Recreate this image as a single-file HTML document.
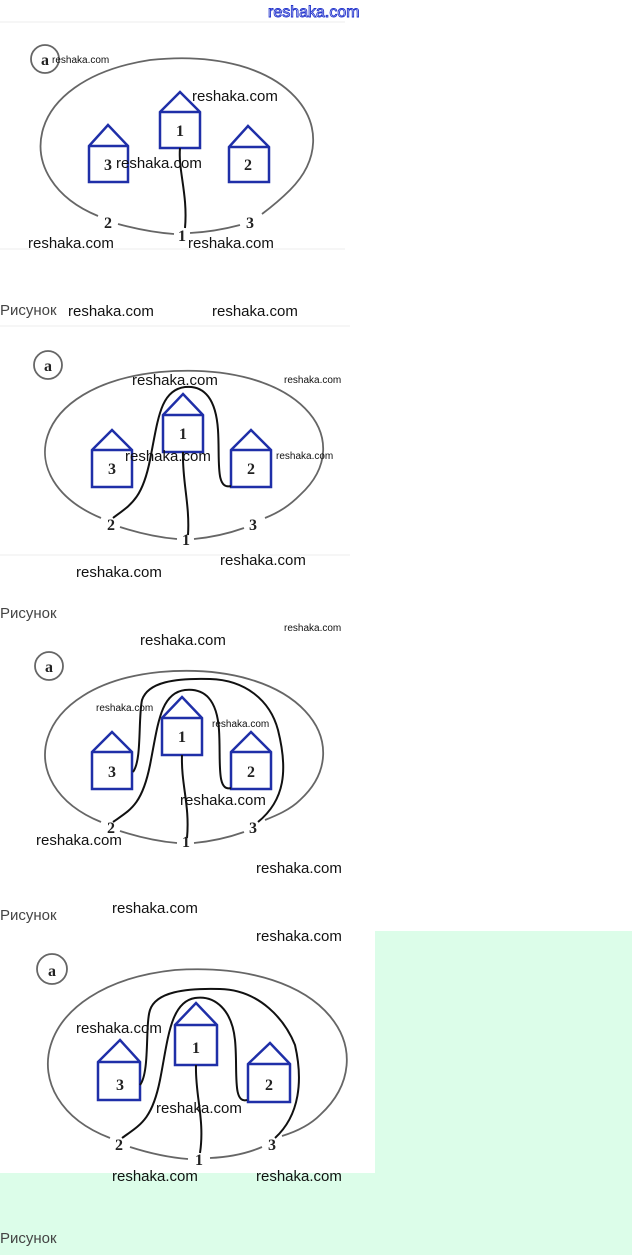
<!DOCTYPE html>
<html><head><meta charset="utf-8"><style>
html,body{margin:0;padding:0;background:#fff;}
svg{display:block;}
.w{font-family:"Liberation Sans",sans-serif;font-size:15px;fill:#111;}
.ws{font-family:"Liberation Sans",sans-serif;font-size:10px;fill:#111;}
.r{font-family:"Liberation Sans",sans-serif;font-size:15px;fill:#444;}
.n{font-family:"Liberation Serif",serif;font-size:16px;font-weight:bold;fill:#222;text-anchor:middle;}
.h{fill:#fff;stroke:#1f2fa8;stroke-width:2.5;}
.e{fill:none;stroke:#666;stroke-width:1.8;}
.c{fill:none;stroke:#111;stroke-width:2;}
</style></head><body>
<svg width="632" height="1255" viewBox="0 0 632 1255" xmlns="http://www.w3.org/2000/svg">
<rect x="0" y="931" width="632" height="324" fill="#dcfde9"/>
<rect x="0" y="931" width="375" height="242" fill="#fff"/>
<text x="268" y="17" font-family="Liberation Sans,sans-serif" font-size="16" fill="#fff" stroke="#2233cc" stroke-width="0.9">reshaka.com</text>
<line x1="0" y1="22" x2="345" y2="22" stroke="#eee"/>
<line x1="0" y1="249" x2="345" y2="249" stroke="#eee"/>
<line x1="0" y1="326" x2="350" y2="326" stroke="#eee"/>
<line x1="0" y1="555" x2="350" y2="555" stroke="#eee"/>

<!-- Figure 1 -->
<circle cx="45" cy="59" r="14" class="e"/><text x="45" y="65" class="n">a</text>
<path class="e" d="M98,216 C10,180 20,80 150,60 C290,45 350,130 290,190 C280,200 270,208 262,214"/>
<path class="e" d="M118,224 C140,230 160,233 174,234"/>
<path class="e" d="M190,233 C210,232 225,229 240,225"/>
<polygon class="h" points="180,92 200,112 200,148 160,148 160,112"/><line x1="160" y1="112" x2="200" y2="112" stroke="#1f2fa8" stroke-width="2.5"/>
<polygon class="h" points="108,125 128,146 128,182 89,182 89,146"/><line x1="89" y1="146" x2="128" y2="146" stroke="#1f2fa8" stroke-width="2.5"/>
<polygon class="h" points="248,126 269,147 269,182 229,182 229,147"/><line x1="229" y1="147" x2="269" y2="147" stroke="#1f2fa8" stroke-width="2.5"/>
<text x="180" y="136" class="n">1</text><text x="108" y="170" class="n">3</text><text x="248" y="170" class="n">2</text>
<path class="c" d="M180,148 C178,170 188,195 185,228"/>
<text x="108" y="228" class="n">2</text><text x="182" y="241" class="n">1</text><text x="250" y="228" class="n">3</text>

<!-- Figure 2 -->
<circle cx="48" cy="365" r="14" class="e"/><text x="48" y="371" class="n">a</text>
<path class="e" d="M101,518 C10,480 30,385 160,372 C300,360 360,440 300,495 C290,505 280,512 265,518"/>
<path class="e" d="M120,527 C145,535 165,538 177,539"/>
<path class="e" d="M194,539 C215,537 230,533 244,528"/>
<polygon class="h" points="183,394 203,415 203,452 163,452 163,415"/><line x1="163" y1="415" x2="203" y2="415" stroke="#1f2fa8" stroke-width="2.5"/>
<polygon class="h" points="112,430 132,450 132,487 92,487 92,450"/><line x1="92" y1="450" x2="132" y2="450" stroke="#1f2fa8" stroke-width="2.5"/>
<polygon class="h" points="251,430 271,450 271,487 231,487 231,450"/><line x1="231" y1="450" x2="271" y2="450" stroke="#1f2fa8" stroke-width="2.5"/>
<text x="183" y="439" class="n">1</text><text x="112" y="474" class="n">3</text><text x="251" y="474" class="n">2</text>
<path class="c" d="M183,452 C182,480 190,505 188,535"/>
<path class="c" d="M231,486 C215,490 220,460 218,430 C216,400 205,385 185,387 C160,390 158,420 150,460 C142,500 130,505 113,518"/>
<text x="111" y="530" class="n">2</text><text x="186" y="545" class="n">1</text><text x="253" y="530" class="n">3</text>

<!-- Figure 3 -->
<circle cx="49" cy="666" r="14" class="e"/><text x="49" y="672" class="n">a</text>
<path class="e" d="M101,822 C10,785 30,685 160,672 C300,660 360,745 300,800 C290,810 275,816 265,820"/>
<path class="e" d="M120,831 C145,839 165,842 177,843"/>
<path class="e" d="M194,843 C215,841 230,837 244,832"/>
<polygon class="h" points="182,697 202,718 202,755 162,755 162,718"/><line x1="162" y1="718" x2="202" y2="718" stroke="#1f2fa8" stroke-width="2.5"/>
<polygon class="h" points="112,732 132,752 132,789 92,789 92,752"/><line x1="92" y1="752" x2="132" y2="752" stroke="#1f2fa8" stroke-width="2.5"/>
<polygon class="h" points="251,732 271,752 271,789 231,789 231,752"/><line x1="231" y1="752" x2="271" y2="752" stroke="#1f2fa8" stroke-width="2.5"/>
<text x="182" y="742" class="n">1</text><text x="112" y="777" class="n">3</text><text x="251" y="777" class="n">2</text>
<path class="c" d="M182,755 C181,785 190,805 187,838"/>
<path class="c" d="M231,788 C216,792 221,760 219,730 C217,700 205,688 185,690 C160,693 158,725 150,765 C142,805 130,810 113,822"/>
<path class="c" d="M133,772 C142,760 138,720 142,700 C148,682 175,678 210,679 C245,680 270,700 278,730 C288,770 285,800 258,822"/>
<text x="111" y="833" class="n">2</text><text x="186" y="847" class="n">1</text><text x="253" y="833" class="n">3</text>

<!-- Figure 4 -->
<circle cx="52" cy="969" r="15" class="e"/><text x="52" y="976" class="n">a</text>
<path class="e" d="M110,1138 C10,1100 30,985 175,970 C330,960 385,1055 320,1115 C310,1125 295,1132 282,1136"/>
<path class="e" d="M130,1147 C155,1155 175,1158 188,1159"/>
<path class="e" d="M210,1158 C232,1157 248,1153 262,1147"/>
<polygon class="h" points="196,1003 217,1025 217,1065 175,1065 175,1025"/><line x1="175" y1="1025" x2="217" y2="1025" stroke="#1f2fa8" stroke-width="2.5"/>
<polygon class="h" points="120,1040 140,1062 140,1100 98,1100 98,1062"/><line x1="98" y1="1062" x2="140" y2="1062" stroke="#1f2fa8" stroke-width="2.5"/>
<polygon class="h" points="270,1043 290,1064 290,1102 248,1102 248,1064"/><line x1="248" y1="1064" x2="290" y2="1064" stroke="#1f2fa8" stroke-width="2.5"/>
<text x="196" y="1053" class="n">1</text><text x="120" y="1090" class="n">3</text><text x="269" y="1090" class="n">2</text>
<path class="c" d="M196,1065 C195,1095 205,1120 200,1153"/>
<path class="c" d="M247,1100 C232,1104 238,1070 235,1040 C232,1010 215,995 195,998 C170,1002 168,1040 160,1080 C152,1120 140,1125 122,1138"/>
<path class="c" d="M140,1085 C150,1072 145,1025 150,1010 C156,992 185,988 220,989 C260,990 285,1020 295,1045 C303,1080 300,1115 275,1138"/>
<text x="119" y="1150" class="n">2</text><text x="199" y="1165" class="n">1</text><text x="272" y="1150" class="n">3</text>

<!-- captions -->
<text x="0" y="315" class="r">Рисунок</text>
<text x="0" y="618" class="r">Рисунок</text>
<text x="0" y="920" class="r">Рисунок</text>
<text x="0" y="1243" class="r">Рисунок</text>

<!-- watermarks -->
<text x="52" y="63" class="ws">reshaka.com</text>
<text x="192" y="101" class="w">reshaka.com</text>
<text x="116" y="168" class="w">reshaka.com</text>
<text x="28" y="248" class="w">reshaka.com</text>
<text x="188" y="248" class="w">reshaka.com</text>
<text x="68" y="316" class="w">reshaka.com</text>
<text x="212" y="316" class="w">reshaka.com</text>
<text x="132" y="385" class="w">reshaka.com</text>
<text x="284" y="383" class="ws">reshaka.com</text>
<text x="125" y="461" class="w">reshaka.com</text>
<text x="276" y="459" class="ws">reshaka.com</text>
<text x="220" y="565" class="w">reshaka.com</text>
<text x="76" y="577" class="w">reshaka.com</text>
<text x="140" y="645" class="w">reshaka.com</text>
<text x="284" y="631" class="ws">reshaka.com</text>
<text x="96" y="711" class="ws">reshaka.com</text>
<text x="212" y="727" class="ws">reshaka.com</text>
<text x="180" y="805" class="w">reshaka.com</text>
<text x="36" y="845" class="w">reshaka.com</text>
<text x="256" y="873" class="w">reshaka.com</text>
<text x="112" y="913" class="w">reshaka.com</text>
<text x="256" y="941" class="w">reshaka.com</text>
<text x="76" y="1033" class="w">reshaka.com</text>
<text x="156" y="1113" class="w">reshaka.com</text>
<text x="112" y="1181" class="w">reshaka.com</text>
<text x="256" y="1181" class="w">reshaka.com</text>
</svg>
</body></html>
